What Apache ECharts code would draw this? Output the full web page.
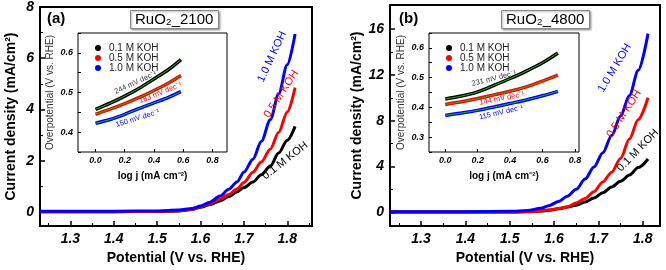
<!DOCTYPE html>
<html>
<head>
<meta charset="utf-8">
<script src="https://cdn.jsdelivr.net/npm/echarts@6/dist/echarts.min.js"></script>
<style>
  html, body { margin: 0; padding: 0; background: #fff; }
  #chart { width: 666px; height: 270px; }
</style>
</head>
<body>
<div id="chart"></div>
<script>
// panel (a) RuO2_2100, LSV curves
const potentialA = [1.23, 1.3, 1.4, 1.5, 1.55, 1.58, 1.6, 1.62, 1.645, 1.665, 1.684, 1.7, 1.721, 1.74, 1.761, 1.78, 1.8, 1.818];
const currentA01 = [0.01, 0.01, 0.01, 0.02, 0.04, 0.09, 0.18, 0.28, 0.43, 0.6, 0.78, 0.95, 1.17, 1.45, 1.79, 2.3, 2.8, 3.34];
const currentA05 = [0.01, 0.01, 0.01, 0.02, 0.05, 0.1, 0.2, 0.32, 0.5, 0.68, 0.89, 1.15, 1.55, 1.95, 2.45, 3.1, 3.9, 4.85];
const currentA10 = [0.03, 0.03, 0.03, 0.04, 0.07, 0.13, 0.23, 0.37, 0.62, 0.88, 1.17, 1.55, 2.06, 2.75, 3.6, 4.6, 5.75, 6.95];

// panel (b) RuO2_4800
const potentialB = [1.23, 1.3, 1.4, 1.5, 1.54, 1.57, 1.59, 1.61, 1.63, 1.65, 1.67, 1.69, 1.71, 1.73, 1.75, 1.77, 1.79, 1.812];
const currentB01 = [0.02, 0.02, 0.02, 0.02, 0.04, 0.1, 0.18, 0.3, 0.45, 0.62, 0.9, 1.25, 1.7, 2.2, 2.7, 3.25, 3.9, 4.65];
const currentB05 = [0.03, 0.03, 0.03, 0.03, 0.06, 0.12, 0.22, 0.32, 0.46, 0.8, 1.2, 1.8, 2.65, 3.5, 4.7, 6.4, 8.1, 10.0];
const currentB10 = [0.05, 0.05, 0.05, 0.08, 0.15, 0.35, 0.6, 0.95, 1.4, 2.0, 2.9, 3.95, 5.2, 6.7, 8.4, 10.2, 12.4, 15.6];

// insets: Tafel plots
const logjA = [0, 0.1, 0.2, 0.3, 0.4, 0.5, 0.585];
const etaA01 = [0.4575, 0.473, 0.491, 0.511, 0.534, 0.558, 0.583];
const etaA05 = [0.445, 0.458, 0.472, 0.4875, 0.505, 0.524, 0.543];
const etaA10 = [0.4225, 0.432, 0.445, 0.46, 0.474, 0.488, 0.502];

const logjB = [0, 0.1, 0.2, 0.3, 0.4, 0.5, 0.6, 0.695];
const etaB01 = [0.428, 0.438, 0.452, 0.474, 0.497, 0.522, 0.55, 0.583];
const etaB05 = [0.41, 0.419, 0.43, 0.442, 0.454, 0.469, 0.488, 0.508];
const etaB10 = [0.373, 0.381, 0.39, 0.401, 0.413, 0.425, 0.439, 0.454];

const names = ['0.1 M KOH', '0.5 M KOH', '1.0 M KOH'];
const colors = ['#000000', '#ff0000', '#0000ff'];
const slopesA = ['244 mV dec⁻¹', '183 mV dec⁻¹', '150 mV dec⁻¹'];
const slopesB = ['231 mV dec⁻¹', '144 mV dec⁻¹', '115 mV dec⁻¹'];

const xTicks = [1.3, 1.4, 1.5, 1.6, 1.7, 1.8];
const xMinorTicks = [1.25, 1.35, 1.45, 1.55, 1.65, 1.75, 1.85];
const yTicksA = [0, 2, 4, 6, 8];
const yMinorTicksA = [1, 3, 5, 7];
const yTicksB = [0, 4, 8, 12, 16];
const yMinorTicksB = [2, 6, 10, 14];
const insetXTicks = [0, 0.2, 0.4, 0.6, 0.8];

const FONT = 'Liberation Sans, Arial, sans-serif';
const chart = echarts.init(document.getElementById('chart'));

function pairs(x, y) { return x.map((v, i) => [v, y[i]]); }

const xRange = [[1.23, 1.857], [1.23, 1.839]];
const yRange = [[-0.55, 8], [-1.2, 18.1]];

function mainAxisX(idx, r) {
  return {
    type: 'value', gridIndex: idx, min: r[0], max: r[1], position: 'bottom',
    axisLine: { show: false, onZero: false },
    axisTick: { inside: true, length: 5, lineStyle: { color: '#000', width: 1.5 }, customValues: xTicks },
    axisLabel: { customValues: xTicks, formatter: v => v.toFixed(1), fontFamily: FONT, fontSize: 14,
      fontWeight: 'bold', fontStyle: 'italic', color: '#000', margin: 6 },
    splitLine: { show: false },
    name: 'Potential (V vs. RHE)', nameLocation: 'middle', nameGap: 25,
    nameTextStyle: { fontFamily: FONT, fontSize: 14, fontWeight: 'bold', color: '#000' }
  };
}
function mainAxisY(idx, r, ticks) {
  return {
    type: 'value', gridIndex: idx, min: r[0], max: r[1], position: 'left',
    axisLine: { show: false, onZero: false },
    axisTick: { inside: true, length: 5, lineStyle: { color: '#000', width: 1.5 }, customValues: ticks },
    axisLabel: { customValues: ticks, fontFamily: FONT, fontSize: 14, fontWeight: 'bold',
      fontStyle: 'italic', color: '#000', margin: 6 },
    splitLine: { show: false },
    name: 'Current density (mA/cm²)', nameLocation: 'middle', nameGap: 22,
    nameTextStyle: { fontFamily: FONT, fontSize: 14, fontWeight: 'bold', color: '#000' }
  };
}
// extra axes only for the short minor ticks
function minorAxis(idx, r, ticks, pos) {
  return {
    type: 'value', gridIndex: idx, min: r[0], max: r[1], position: pos,
    axisLine: { show: false, onZero: false }, axisLabel: { show: false }, splitLine: { show: false },
    axisTick: { inside: true, length: 3, lineStyle: { color: '#000', width: 1 }, customValues: ticks }
  };
}
function insetAxisX(idx, min, max) {
  return {
    type: 'value', gridIndex: idx, min: min, max: max, position: 'bottom',
    axisLine: { show: false, onZero: false },
    axisTick: { inside: true, length: 3, lineStyle: { color: '#000' }, customValues: insetXTicks },
    axisLabel: { customValues: insetXTicks, formatter: v => v.toFixed(1), fontFamily: FONT, fontSize: 9,
      fontWeight: 'bold', fontStyle: 'italic', color: '#000', margin: 4 },
    splitLine: { show: false },
    name: 'log j (mA cm⁻²)', nameLocation: 'middle', nameGap: 19,
    nameTextStyle: { fontFamily: FONT, fontSize: 10, fontWeight: 'bold', color: '#000' }
  };
}
function insetAxisY(idx, min, max) {
  return {
    type: 'value', gridIndex: idx, min: min, max: max, interval: 0.05, position: 'left',
    axisLine: { show: false, onZero: false },
    axisTick: { inside: true, length: 3, lineStyle: { color: '#000' } },
    axisLabel: {
      formatter: v => (Math.round(v * 100) % 10 === 0 ? v.toFixed(1) : ''),
      fontFamily: FONT, fontSize: 9, fontWeight: 'bold', fontStyle: 'italic', color: '#000', margin: 5
    },
    splitLine: { show: false },
    name: 'Overpotential (V vs. RHE)', nameLocation: 'middle', nameGap: 23,
    nameTextStyle: { fontFamily: FONT, fontSize: 10, color: '#333' }
  };
}

function mainSeries(idx, x, ys) {
  return ys.map((y, k) => ({
    name: 'main' + idx + '-' + k, type: 'line', xAxisIndex: idx, yAxisIndex: idx,
    data: pairs(x, y), showSymbol: false, smooth: 0.3, smoothMonotone: 'x',
    lineStyle: { color: colors[k], width: 3 }, itemStyle: { color: colors[k] }, z: 3
  }));
}
function insetSeries(idx, x, ys) {
  const out = [];
  ys.forEach((y, k) => {
    out.push({
      name: names[k], type: 'line', xAxisIndex: idx, yAxisIndex: idx,
      data: pairs(x, y), showSymbol: false, smooth: 0.3,
      lineStyle: { color: colors[k], width: 3.5 }, itemStyle: { color: colors[k] }, z: 4
    });
    out.push({
      name: 'fit' + idx + k, type: 'line', xAxisIndex: idx, yAxisIndex: idx,
      data: pairs(x, y), showSymbol: false, smooth: 0.3,
      lineStyle: { color: '#1fb81f', width: 1 }, z: 5
    });
  });
  return out;
}

function legendAt(left) {
  return {
    data: names, left: left, top: 38, orient: 'vertical', icon: 'circle',
    itemWidth: 6, itemHeight: 6, itemGap: 0,
    textStyle: { fontFamily: FONT, fontSize: 10, color: '#222', lineHeight: 10, padding: [0, 0, 0, 3] }
  };
}

function titleBox(text, left) {
  return {
    text: text, left: left, top: 10, padding: [2, 5], borderColor: '#888', borderWidth: 1,
    backgroundColor: '#fff', shadowColor: 'rgba(0,0,0,0.35)', shadowBlur: 2, shadowOffsetX: 1, shadowOffsetY: 1,
    textStyle: { fontFamily: FONT, fontSize: 15, fontWeight: 'normal', color: '#000' }
  };
}

chart.setOption({
  animation: false,
  backgroundColor: '#fff',
  title: [
    titleBox('RuO₂_2100', 130),
    titleBox('RuO₂_4800', 501),
    { text: '(a)', left: 47, top: 11, padding: 0, textStyle: { fontFamily: FONT, fontSize: 15, fontWeight: 'bold', color: '#000' } },
    { text: '(b)', left: 399, top: 11, padding: 0, textStyle: { fontFamily: FONT, fontSize: 15, fontWeight: 'bold', color: '#000' } }
  ],
  legend: [legendAt(90), legendAt(441)],
  grid: [
    { left: 40, top: 7, width: 272, height: 220, show: true, borderColor: '#000', borderWidth: 2, backgroundColor: 'transparent' },
    { left: 78, top: 33, width: 149, height: 119, show: true, borderColor: '#000', borderWidth: 1, backgroundColor: '#fff' },
    { left: 390, top: 5, width: 270, height: 222, show: true, borderColor: '#000', borderWidth: 2, backgroundColor: 'transparent' },
    { left: 429, top: 33, width: 150, height: 119, show: true, borderColor: '#000', borderWidth: 1, backgroundColor: '#fff' }
  ],
  xAxis: [
    mainAxisX(0, xRange[0]), insetAxisX(1, -0.12, 0.9), mainAxisX(2, xRange[1]), insetAxisX(3, -0.1, 0.825),
    minorAxis(0, xRange[0], xMinorTicks, 'bottom'), minorAxis(2, xRange[1], xMinorTicks, 'bottom')
  ],
  yAxis: [
    mainAxisY(0, yRange[0], yTicksA),
    insetAxisY(1, 0.35, 0.65),
    mainAxisY(2, yRange[1], yTicksB),
    insetAxisY(3, 0.25, 0.65),
    minorAxis(0, yRange[0], yMinorTicksA, 'left'), minorAxis(2, yRange[1], yMinorTicksB, 'left')
  ],
  series: [].concat(
    mainSeries(0, potentialA, [currentA01, currentA05, currentA10]),
    insetSeries(1, logjA, [etaA01, etaA05, etaA10]),
    mainSeries(2, potentialB, [currentB01, currentB05, currentB10]),
    insetSeries(3, logjB, [etaB01, etaB05, etaB10])
  )
});

// rotated text labels, anchored in data coordinates
const labels = [
  { g: 0, at: [1.765, 6.06], text: names[2], color: colors[2], rot: 65, size: 11 },
  { g: 0, at: [1.786, 4.6], text: names[1], color: colors[1], rot: 57, size: 11 },
  { g: 0, at: [1.795, 2.0], text: names[0], color: colors[0], rot: 38, size: 11 },
  { g: 2, at: [1.737, 12.6], text: names[2], color: colors[2], rot: 59, size: 11 },
  { g: 2, at: [1.758, 8.6], text: names[1], color: colors[1], rot: 57, size: 11 },
  { g: 2, at: [1.789, 5.4], text: names[0], color: colors[0], rot: 46, size: 11 },
  { g: 1, at: [0.274, 0.525], text: slopesA[0], color: '#333', rot: 25, size: 7.5 },
  { g: 1, at: [0.445, 0.499], text: slopesA[1], color: colors[1], rot: 22, size: 7.5 },
  { g: 1, at: [0.288, 0.435], text: slopesA[2], color: colors[2], rot: 17, size: 7.5 },
  { g: 3, at: [0.30, 0.497], text: slopesB[0], color: '#333', rot: 14, size: 7.5 },
  { g: 3, at: [0.35, 0.43], text: slopesB[1], color: colors[1], rot: 11, size: 7.5 },
  { g: 3, at: [0.345, 0.383], text: slopesB[2], color: colors[2], rot: 13, size: 7.5 }
];
chart.setOption({
  graphic: labels.map(l => {
    const p = chart.convertToPixel({ gridIndex: l.g }, l.at);
    return {
      type: 'text', x: p[0], y: p[1], rotation: l.rot * Math.PI / 180, z: 10,
      style: { text: l.text, fill: l.color, font: l.size + 'px ' + FONT, align: 'center', verticalAlign: 'middle' }
    };
  })
});
</script>
</body>
</html>
